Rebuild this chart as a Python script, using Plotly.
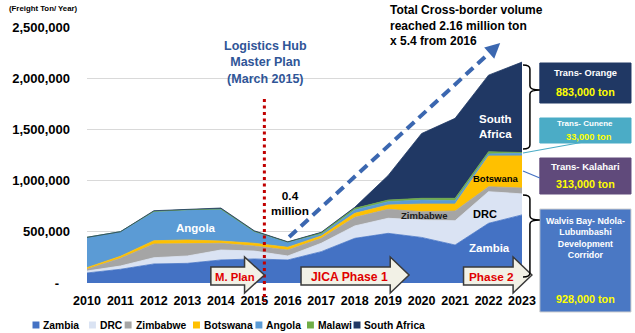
import plotly.graph_objects as go

# ---- data (freight ton / year) ----
years = list(range(2010, 2024))
zambia = [98000, 134000, 186000, 192000, 225000, 235000, 225000, 306000, 436000, 485000, 445000, 371000, 583000, 665000]
drc = [19000, 32000, 61000, 72000, 97000, 77000, 39000, 82000, 121000, 147000, 170000, 237000, 309000, 205000]
zimbabwe = [17000, 75000, 134000, 123000, 66000, 49000, 58000, 48000, 84000, 88000, 81000, 95000, 48000, 58000]
botswana = [16000, 20000, 32000, 33000, 22000, 27000, 27000, 23000, 39000, 42000, 75000, 68000, 300000, 313000]
angola = [296000, 240000, 283000, 293000, 310000, 113000, 48000, 16000, 33000, 32000, 39000, 33000, 20000, 25000]
malawi = [0, 0, 4000, 3000, 3000, 3000, 3000, 16000, 16000, 16000, 17000, 23000, 22000, 8000]
south_africa = [0, 0, 6000, 6000, 9000, 6000, 2000, 4000, 10000, 240000, 633000, 781000, 748000, 883000]

series_names = ["Zambia", "DRC", "Zimbabwe", "Botswana", "Angola", "Malawi", "South Africa"]
series_values = [zambia, drc, zimbabwe, botswana, angola, malawi, south_africa]
series_colors = ["#4472C4", "#DAE3F3", "#A5A5A5", "#FFC000", "#5B9BD5", "#70AD47", "#203864"]

y_ticks = [0, 500000, 1000000, 1500000, 2000000, 2500000]
y_ticktext = ["-\u00a0\u00a0\u00a0", "500,000", "1,000,000", "1,500,000", "2,000,000", "2,500,000"]

# ---- layout geometry (pixels) ----
W, H = 635, 333
L, R, T, B = 83, 522, 27, 283
FONT = "Liberation Sans, Arial, sans-serif"


def px(x, y):
    """pixel position -> paper coordinates"""
    return (x - L) / (R - L), (B - y) / (B - T)


def path(points, close=True):
    pts = [px(x, y) for x, y in points]
    s = "M " + " L ".join(f"{a:.5f},{b:.5f}" for a, b in pts)
    return s + (" Z" if close else "")


fig = go.Figure()
for name, vals, col in zip(series_names, series_values, series_colors):
    fig.add_trace(go.Scatter(
        x=years, y=vals, name=name, mode="lines", stackgroup="one",
        line=dict(color=col, width=0.8), fillcolor=col, showlegend=False,
        hoverinfo="x+y+name"))

totals = [sum(v[i] for v in series_values) for i in range(len(years))]
i16 = years.index(2016)

shapes = []
ann = []


def text(x, y, s, size, color="black", xanchor="center", ref="paper", align="center"):
    if ref == "paper":
        xx, yy = px(x, y)
        xr, yr = "paper", "paper"
    else:
        xx, yy = x, y
        xr, yr = "x", "y"
    ann.append(dict(x=xx, y=yy, xref=xr, yref=yr, text=s, showarrow=False,
                    xanchor=xanchor, yanchor="middle", align=align,
                    font=dict(family=FONT, size=size, color=color)))


# unit label
text(2, 8, "<b>(Freight Ton/ Year)</b>", 7.8, xanchor="left")

# labels inside the areas (data coordinates)
text(2013.26, 537000, "<b>Angola</b>", 11.5, "white", ref="data")
text(2022.21, 1530000, "<b>South<br>Africa</b>", 11.5, "white", ref="data")
text(2022.21, 1016000, "<b>Botswana</b>", 9.5, "black", ref="data")
text(2020.08, 664000, "<b>Zimbabwe</b>", 9.5, "#1a1a1a", ref="data")
text(2021.88, 674000, "<b>DRC</b>", 11, "black", ref="data")
text(2022.03, 342000, "<b>Zambia</b>", 11.5, "white", ref="data")

# master plan marker
x0, y0 = px(262, 99)
x1, y1 = px(262, 302)
shapes.append(dict(type="line", xref="paper", yref="paper", x0=x0, y0=y0, x1=x1, y1=y1,
                   line=dict(color="#C00000", width=3, dash="3px,3.5px"), layer="above"))
text(263, 62, "<b>Logistics Hub<br>Master Plan<br>(March 2015)</b>", 12.5, "#2F5597")

# 2016 volume and growth
text(288, 203, f"<b>{totals[i16] / 1e6:.1f}<br>million</b>", 11.8)
ratio = totals[-1] / totals[i16]
text(387, 25, f"<b>Total Cross-border volume<br>reached {totals[-1] / 1e6:.2f} million ton<br>x {ratio:.1f} from 2016</b>",
     12, xanchor="left", align="left")

# dashed growth arrow
sx, sy, ex, ey = 287, 237, 500, 43
dx, dy = ex - sx, ey - sy
ln = (dx * dx + dy * dy) ** 0.5
ux, uy = dx / ln, dy / ln
hl, hw = 15, 7.5
bx, by = ex - hl * ux, ey - hl * uy
a0 = px(sx, sy)
a1 = px(bx, by)
shapes.append(dict(type="line", xref="paper", yref="paper", x0=a0[0], y0=a0[1], x1=a1[0], y1=a1[1],
                   line=dict(color="#3B67B0", width=4, dash="10px,6px"), layer="above"))
shapes.append(dict(type="path", xref="paper", yref="paper", layer="above",
                   path=path([(ex, ey), (bx - hw * uy, by + hw * ux), (bx + hw * uy, by - hw * ux)]),
                   fillcolor="#3B67B0", line=dict(width=0)))


# block arrows for the project phases
def block_arrow(xl, xb, xt, label, cx, size):
    pts = [(xl, 267), (xb, 267), (xb, 257), (xt, 275), (xb, 293), (xb, 285), (xl, 285)]
    shapes.append(dict(type="path", xref="paper", yref="paper", layer="above", path=path(pts),
                       fillcolor="#F2F1E6", line=dict(color="#3A3A3A", width=1.5)))
    text(cx, 276.5, f"<b>{label}</b>", size, "#E00000")


block_arrow(208, 242, 262, "M. Plan", 232, 11.3)
block_arrow(299, 389, 408, "JICA Phase 1", 348, 12.2)
block_arrow(463, 513, 532, "Phase 2", 491, 11.8)


# right-hand corridor boxes
def box(y_top, y_bot, fill, border=None):
    a = px(540, y_top)
    b = px(632, y_bot)
    shapes.append(dict(type="rect", xref="paper", yref="paper", x0=a[0], y0=b[1], x1=b[0], y1=a[1],
                       fillcolor=fill, layer="above",
                       line=dict(color=border or fill, width=1)))


box(63, 103, "#203864")
text(586, 73, "<b>Trans- Orange</b>", 9.3, "white")
text(586, 92, f"<b>{south_africa[-1]:,} ton</b>", 10.8, "#FFFF00")

box(118, 143, "#4BACC6")
text(586, 123, "<b>Trans- Cunene</b>", 8, "white")
text(590, 137, f"<b>{angola[-1] + malawi[-1]:,} ton</b>", 9.3, "#FFFF00")

box(158, 194, "#604A7B")
text(586, 166, "<b>Trans- Kalahari</b>", 9.5, "white")
text(586, 184, f"<b>{botswana[-1]:,} ton</b>", 10.8, "#FFFF00")

box(209, 312, "#4A78C4", "#D0D0D0")
text(586, 238, "<b>Walvis Bay- Ndola-<br>Lubumbashi<br>Development<br>Corridor</b>", 8.8, "white")
text(586, 299, f"<b>{zambia[-1] + drc[-1] + zimbabwe[-1]:,} ton</b>", 10.8, "#FFFF00")


# braces pointing at the boxes
def brace(y_top, y_tip, y_bot):
    xa, xv, xt = 523, 530, 540
    r = 4

    def p(x, y):
        a, b = px(x, y)
        return f"{a:.5f},{b:.5f}"

    segs = [
        f"M {p(xa, y_top)}",
        f"Q {p(xv, y_top)} {p(xv, y_top + r)}",
        f"L {p(xv, y_tip - r)}",
        f"Q {p(xv, y_tip)} {p(xt, y_tip)}",
        f"Q {p(xv, y_tip)} {p(xv, y_tip + r)}",
        f"L {p(xv, y_bot - r)}",
        f"Q {p(xv, y_bot)} {p(xa, y_bot)}",
    ]
    shapes.append(dict(type="path", xref="paper", yref="paper", layer="above", path=" ".join(segs),
                       line=dict(color="black", width=1.5)))


brace(65, 90, 149)
brace(195, 220, 277)

# connector lines to the smaller corridors
for (xa, ya), (xb, yb), col in [((523, 153), (590, 141), "#4BACC6"), ((523, 171), (540, 178), "#4472C4")]:
    p0, p1 = px(xa, ya), px(xb, yb)
    shapes.append(dict(type="line", xref="paper", yref="paper", x0=p0[0], y0=p0[1], x1=p1[0], y1=p1[1],
                       layer="above", line=dict(color=col, width=1.2)))

# legend row
legend_x = [28, 85, 121, 190, 253, 305, 352]
for name, col, lx in zip(series_names, series_colors, legend_x):
    a = px(lx, 321.5)
    b = px(lx + 7, 328.5)
    shapes.append(dict(type="rect", xref="paper", yref="paper", x0=a[0], y0=b[1], x1=b[0], y1=a[1],
                       fillcolor=col, line=dict(width=0), layer="above"))
    text(lx + 9, 325, f"<b>{name}</b>", 10.3, xanchor="left")

fig.update_layout(
    width=W, height=H,
    margin=dict(l=L, r=W - R, t=T, b=H - B, pad=0),
    paper_bgcolor="white", plot_bgcolor="white",
    showlegend=False,
    shapes=shapes, annotations=ann,
    xaxis=dict(range=[2010, 2023], tickvals=years, ticktext=[str(y) for y in years],
               showgrid=False, zeroline=False, showline=False, ticks="", tickangle=0,
               ticklabelstandoff=8,
               tickfont=dict(family=FONT, size=12.5, color="black", weight="bold")),
    yaxis=dict(range=[0, 2500000], tickvals=y_ticks, ticktext=y_ticktext,
               showgrid=True, gridcolor="#D9D9D9", gridwidth=1, zeroline=False, showline=False,
               ticks="", ticklabelstandoff=16,
               tickfont=dict(family=FONT, size=13, color="black", weight="bold")),
)

fig.write_html("out.html")
